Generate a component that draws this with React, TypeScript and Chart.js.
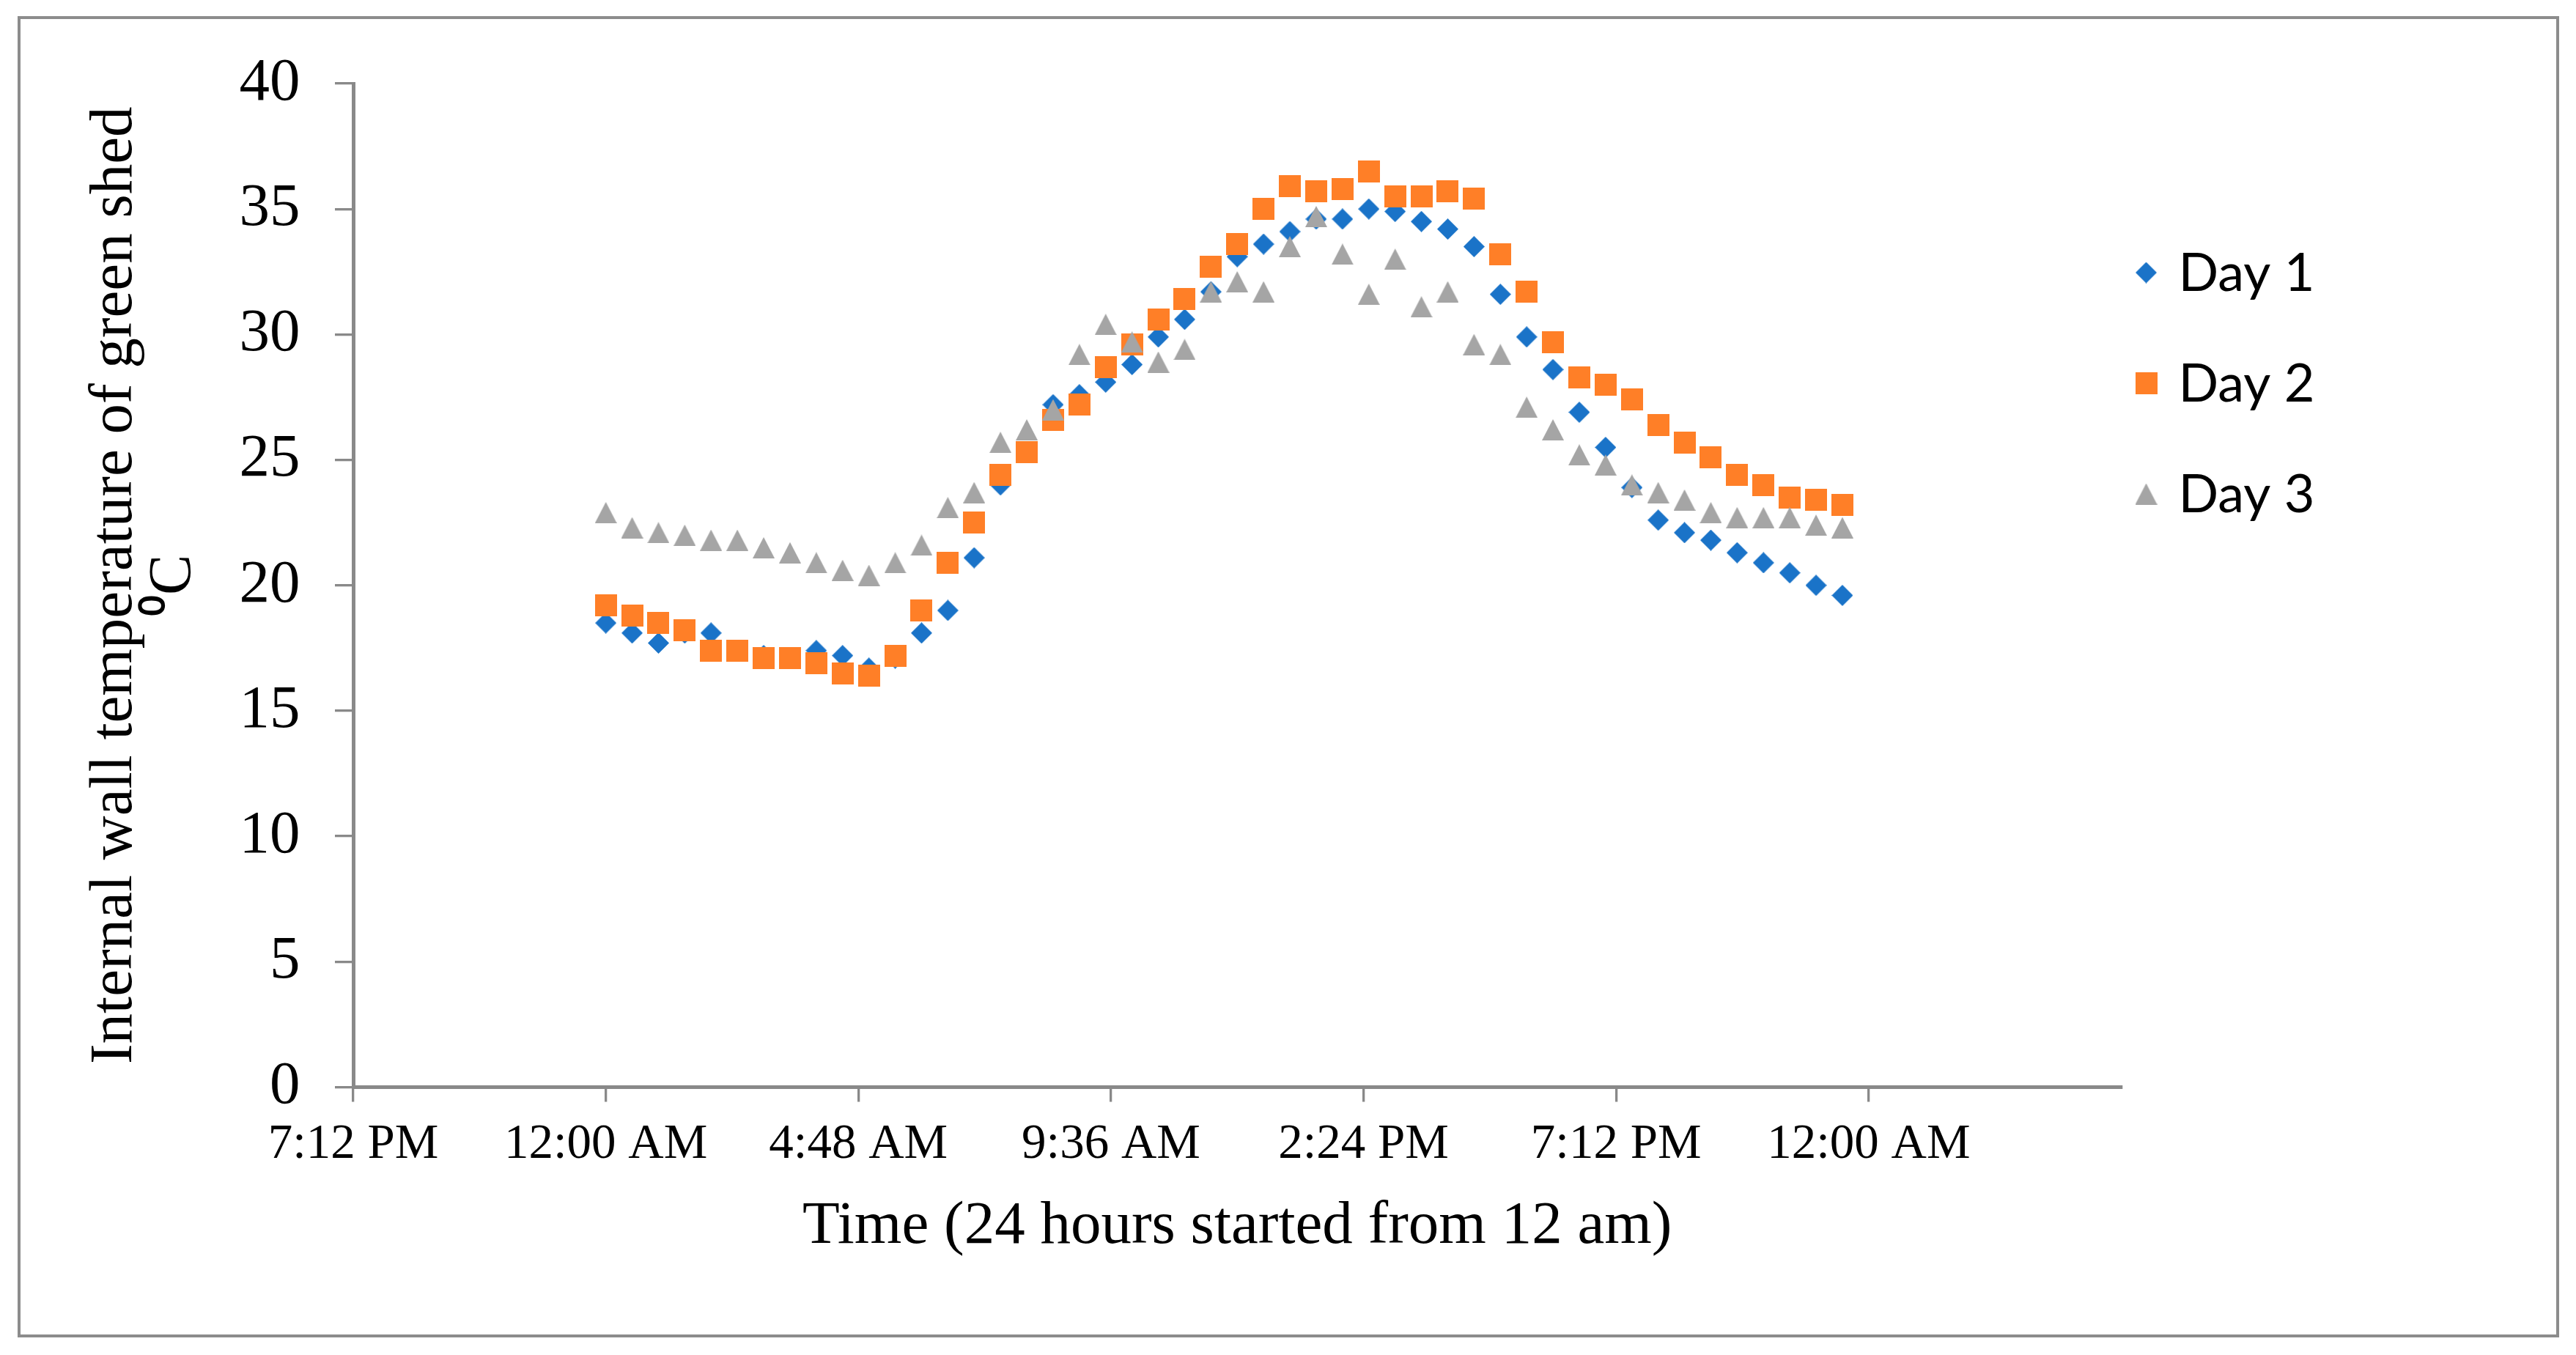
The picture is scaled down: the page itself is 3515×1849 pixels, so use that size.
import { useEffect, useRef } from 'react';
import { Chart, registerables } from 'chart.js';
import type { Plugin } from 'chart.js';

Chart.register(...registerables);

// Readings every half hour, given as hours after midnight.
const HOURS = [
  0, 0.5, 1, 1.5, 2, 2.5, 3, 3.5, 4, 4.5, 5, 5.5,
  6, 6.5, 7, 7.5, 8, 8.5, 9, 9.5, 10, 10.5, 11, 11.5,
  12, 12.5, 13, 13.5, 14, 14.5, 15, 15.5, 16, 16.5, 17, 17.5,
  18, 18.5, 19, 19.5, 20, 20.5, 21, 21.5, 22, 22.5, 23, 23.5,
];

const DAY_1 = [
  18.5, 18.1, 17.7, 18.1, 18.1, 17.4, 17.2, 17.1, 17.4, 17.2, 16.7, 17.1,
  18.1, 19.0, 21.1, 24.0, 25.3, 27.2, 27.6, 28.1, 28.8, 29.9, 30.6, 31.7,
  33.1, 33.6, 34.1, 34.6, 34.6, 35.0, 34.9, 34.5, 34.2, 33.5, 31.6, 29.9,
  28.6, 26.9, 25.5, 23.9, 22.6, 22.1, 21.8, 21.3, 20.9, 20.5, 20.0, 19.6,
];

const DAY_2 = [
  19.2, 18.8, 18.5, 18.2, 17.4, 17.4, 17.1, 17.1, 16.9, 16.5, 16.4, 17.2,
  19.0, 20.9, 22.5, 24.4, 25.3, 26.6, 27.2, 28.7, 29.6, 30.6, 31.4, 32.7,
  33.6, 35.0, 35.9, 35.7, 35.8, 36.5, 35.5, 35.5, 35.7, 35.4, 33.2, 31.7,
  29.7, 28.3, 28.0, 27.4, 26.4, 25.7, 25.1, 24.4, 24.0, 23.5, 23.4, 23.2,
];

const DAY_3 = [
  22.9, 22.3, 22.1, 22.0, 21.8, 21.8, 21.5, 21.3, 20.9, 20.6, 20.4, 20.9,
  21.6, 23.1, 23.7, 25.7, 26.2, 27.0, 29.2, 30.4, 29.7, 28.9, 29.4, 31.7,
  32.1, 31.7, 33.5, 34.7, 33.2, 31.6, 33.0, 31.1, 31.7, 29.6, 29.2, 27.1,
  26.2, 25.2, 24.8, 24.0, 23.7, 23.4, 22.9, 22.7, 22.7, 22.7, 22.4, 22.3,
];

const SERIES_LABELS = ['Day 1', 'Day 2', 'Day 3'];

// x axis runs from -0.2 to 1.2 day in 0.2 day (4.8 h) steps; the last step has no label
const X_TICK_LABELS = ['7:12 PM', '12:00 AM', '4:48 AM', '9:36 AM', '2:24 PM', '7:12 PM', '12:00 AM'];

const X_TITLE = 'Time (24 hours started from 12 am)';
const Y_TITLE = ['Internal wall temperature of green shed', '\u2070C'];

const SERIF = "'Liberation Serif', 'Times New Roman', serif";
const AXIS_GREY = '#898989';
const BLUE = '#1a73c8';
const ORANGE = '#ff7f27';
const GREY = '#a5a5a5';

type MarkerShape = 'diamond' | 'square' | 'triangle';

function makeMarker(shape: MarkerShape, color: string): HTMLCanvasElement {
  const c = document.createElement('canvas');
  const w = shape === 'diamond' ? 29 : 30;
  const h = shape === 'square' ? 30 : 29;
  c.width = w;
  c.height = h;
  const ctx = c.getContext('2d')!;
  ctx.fillStyle = color;
  ctx.beginPath();
  if (shape === 'diamond') {
    ctx.moveTo(w / 2, 0);
    ctx.lineTo(w, h / 2);
    ctx.lineTo(w / 2, h);
    ctx.lineTo(0, h / 2);
  } else if (shape === 'square') {
    ctx.rect(0, 0, w, h);
  } else {
    ctx.moveTo(w / 2, 0);
    ctx.lineTo(w, h);
    ctx.lineTo(0, h);
  }
  ctx.closePath();
  ctx.fill();
  return c;
}

// Excel-style legend to the right of the plot, drawn with the same marker images
const sideLegend: Plugin<'scatter'> = {
  id: 'sideLegend',
  afterDraw(chart) {
    const { ctx, chartArea } = chart;
    ctx.save();
    ctx.font = '72px Lato';
    ctx.fillStyle = '#000';
    ctx.textBaseline = 'alphabetic';
    ctx.textAlign = 'left';
    chart.data.datasets.forEach((ds, i) => {
      const marker = ds.pointStyle as unknown as HTMLCanvasElement;
      const cx = chartArea.right + 34;
      const cy = chartArea.top + 258 + i * 151;
      ctx.drawImage(marker, cx - marker.width / 2, cy - marker.height / 2);
      ctx.fillText(ds.label ?? '', cx + 44, cy + 25);
    });
    ctx.restore();
  },
};

const toPoints = (values: number[]) => values.map((v, i) => ({ x: HOURS[i] / 24, y: v }));

export default function App() {
  const canvasRef = useRef<HTMLCanvasElement>(null);

  useEffect(() => {
    if (!canvasRef.current) return;

    const markers = [
      makeMarker('diamond', BLUE),
      makeMarker('square', ORANGE),
      makeMarker('triangle', GREY),
    ];
    const series = [DAY_1, DAY_2, DAY_3];
    const colors = [BLUE, ORANGE, GREY];

    const chart = new Chart(canvasRef.current, {
      type: 'scatter',
      data: {
        datasets: series.map((values, i) => ({
          label: SERIES_LABELS[i],
          data: toPoints(values),
          pointStyle: markers[i] as never,
          pointRadius: 15,
          backgroundColor: colors[i],
          borderColor: colors[i],
          order: 3 - i, // Day 3 ends up on top, as in the original
        })),
      },
      options: {
        animation: false,
        responsive: true,
        maintainAspectRatio: false,
        layout: { padding: { left: 0, top: 114, right: 620.5, bottom: 125.2 } },
        plugins: {
          legend: { display: false },
          tooltip: { enabled: false },
        },
        scales: {
          x: {
            type: 'linear',
            min: -0.2,
            max: 1.2,
            afterFit: (scale) => {
              scale.height = 240.3;
            },
            border: { display: true, color: AXIS_GREY, width: 5 },
            grid: {
              display: true,
              drawOnChartArea: false,
              drawTicks: true,
              tickLength: 20,
              color: AXIS_GREY,
              lineWidth: 3.3,
            },
            ticks: {
              stepSize: 0.2,
              autoSkip: false,
              maxRotation: 0,
              padding: 18.5,
              color: '#000',
              font: { family: SERIF, size: 67 },
              callback: (_value, index) => X_TICK_LABELS[index] ?? null,
            },
            title: {
              display: true,
              text: X_TITLE,
              color: '#000',
              font: { family: SERIF, size: 83 },
              padding: 0,
            },
          },
          y: {
            min: 0,
            max: 40,
            afterFit: (scale) => {
              scale.width = 482;
            },
            border: { display: true, color: AXIS_GREY, width: 5 },
            grid: {
              display: true,
              drawOnChartArea: false,
              drawTicks: true,
              tickLength: 25,
              color: AXIS_GREY,
              lineWidth: 3.3,
            },
            ticks: {
              stepSize: 5,
              padding: 47.5,
              color: '#000',
              font: { family: SERIF, size: 83 },
            },
            title: {
              display: true,
              text: Y_TITLE,
              color: '#000',
              font: { family: SERIF, size: 83, lineHeight: 0.964 },
              padding: { top: 117, bottom: 0 },
            },
          },
        },
      },
      plugins: [sideLegend],
    });

    return () => {
      chart.destroy();
    };
  }, []);

  return (
    <div style={{ position: 'absolute', left: 0, top: 0, width: 3515, height: 1849, background: '#fff' }}>
      <div
        style={{
          position: 'absolute',
          left: 24,
          top: 22,
          width: 3468,
          height: 1803,
          boxSizing: 'border-box',
          border: '4.5px solid #8c8c8c',
        }}
      />
      <div style={{ position: 'absolute', left: 0, top: 0, width: 3515, height: 1849 }}>
        <canvas ref={canvasRef} />
      </div>
    </div>
  );
}
